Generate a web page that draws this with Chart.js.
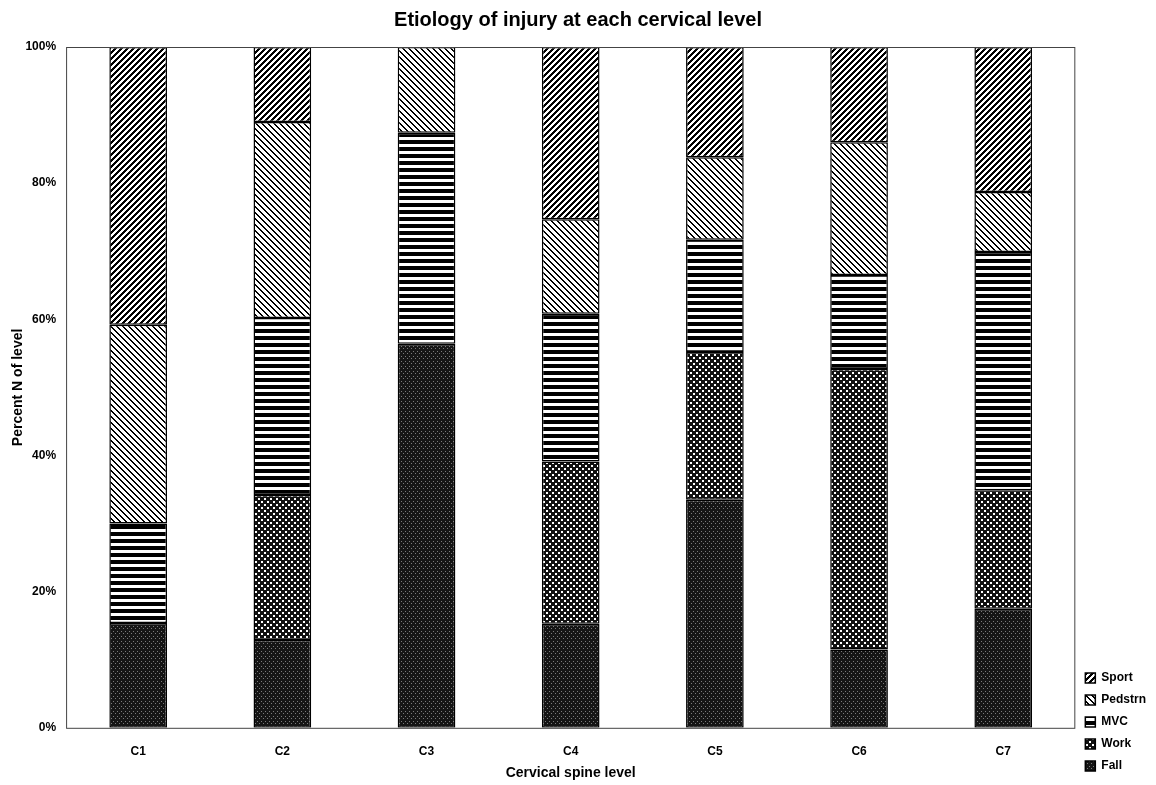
<!DOCTYPE html>
<html>
<head>
<meta charset="utf-8">
<script src="https://cdn.jsdelivr.net/npm/chart.js@4.4.1/dist/chart.umd.min.js"></script>
<style>
  html, body { margin: 0; padding: 0; background: #fff; }
  #wrap { width: 1156px; height: 785px; }
</style>
</head>
<body>
<div id="wrap"><canvas id="etiology"></canvas></div>
<script>
// percent of injuries at each level
const levels = ['C1', 'C2', 'C3', 'C4', 'C5', 'C6', 'C7'];
const fall    = [15.4, 12.9, 56.4, 15.3, 33.5, 11.5, 17.5];
const work    = [0,    21.3, 0,    23.8, 21.7, 41.2, 17.4];
const mvc     = [14.6, 26.0, 31.0, 21.7, 16.5, 13.8, 35.0];
const pedstrn = [29.2, 28.8, 12.6, 13.9, 12.1, 19.5, 8.8];
const sport   = [40.8, 11.0, 0,    25.3, 16.2, 14.0, 21.3];

var ctx = document.getElementById('etiology').getContext('2d');

// small pixel tiles for the black & white fills (black where test(x, y) is true)
function tile(w, h, test, dark, light) {
  const c = document.createElement('canvas');
  c.width = w;
  c.height = h;
  const g = c.getContext('2d');
  g.fillStyle = light;
  g.fillRect(0, 0, w, h);
  g.fillStyle = dark;
  for (let y = 0; y < h; y++) {
    for (let x = 0; x < w; x++) {
      if (test(x, y)) g.fillRect(x, y, 1, 1);
    }
  }
  return ctx.createPattern(c, 'repeat');
}

const sportFill = tile(6, 6, function (x, y) { return (x + y) % 6 < 3; }, '#000', '#fff');
const pedFill = tile(6, 6, function (x, y) { return (x - y + 6) % 6 < 2; }, '#000', '#fff');
const mvcFill = tile(8, 7, function (x, y) { return y < 4; }, '#000', '#fff');
const workFill = tile(6, 6, function (x, y) {
  return !((x < 2 && y < 2) || (x >= 3 && x < 5 && y >= 3 && y < 5));
}, '#111', '#fff');
const fallFill = tile(4, 5, function (x, y) {
  return !((x === 1 && y === 1) || (x === 3 && y === 3));
}, '#151515', '#7a7a7a');

function series(label, data, fill) {
  return {
    label: label,
    data: data,
    backgroundColor: fill,
    borderColor: '#000',
    borderWidth: 1.5,
    borderSkipped: false
  };
}

// box around the plot area
const frame = {
  id: 'frame',
  afterDatasetsDraw(chart) {
    const a = chart.chartArea;
    const g = chart.ctx;
    g.save();
    g.strokeStyle = '#444';
    g.lineWidth = 1;
    g.strokeRect(a.left + 0.5, a.top + 0.5, a.right - a.left - 1, a.bottom - a.top);
    g.restore();
  }
};

const font = 'Arial, "Liberation Sans", sans-serif';

const etiology = new Chart(ctx, {
  type: 'bar',
  data: {
    labels: levels,
    datasets: [
      series('Fall', fall, fallFill),
      series('Work', work, workFill),
      series('MVC', mvc, mvcFill),
      series('Pedstrn', pedstrn, pedFill),
      series('Sport', sport, sportFill)
    ]
  },
  options: {
    responsive: true,
    maintainAspectRatio: false,
    animation: false,
    layout: { padding: { left: 0, right: 0, top: 0, bottom: 3 } },
    datasets: {
      bar: { categoryPercentage: 1, barPercentage: 0.4 }
    },
    scales: {
      x: {
        stacked: true,
        grid: { display: false, drawTicks: false },
        border: { display: false },
        ticks: {
          color: '#000',
          padding: 17,
          font: { family: font, size: 12, weight: 'bold' }
        },
        title: {
          display: true,
          text: 'Cervical spine level',
          color: '#000',
          padding: { top: -11, bottom: 0 },
          font: { family: font, size: 14, weight: 'bold' }
        }
      },
      y: {
        stacked: true,
        min: 0,
        max: 100,
        grid: { display: false, drawTicks: false },
        border: { display: false },
        ticks: {
          stepSize: 20,
          color: '#000',
          padding: 10,
          font: { family: font, size: 12, weight: 'bold' },
          callback: function (v) { return v + '%'; }
        },
        title: {
          display: true,
          text: 'Percent N of level',
          color: '#000',
          padding: { top: 9.6, bottom: -11 },
          font: { family: font, size: 14, weight: 'bold' }
        }
      }
    },
    plugins: {
      title: {
        display: true,
        text: 'Etiology of injury at each cervical level',
        color: '#000',
        padding: { top: 8, bottom: 15 },
        font: { family: font, size: 20, weight: 'bold' }
      },
      legend: {
        position: 'right',
        align: 'end',
        reverse: true,
        labels: {
          color: '#000',
          boxWidth: 10,
          boxHeight: 10,
          padding: 10,
          font: { family: font, size: 12, weight: 'bold' }
        }
      },
      tooltip: { enabled: false }
    }
  },
  plugins: [frame]
});
</script>
</body>
</html>
